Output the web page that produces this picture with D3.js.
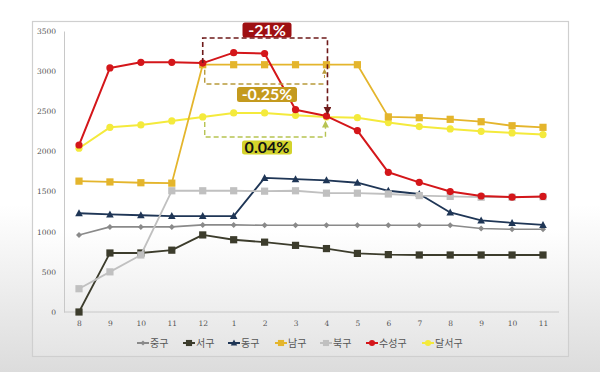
<!DOCTYPE html>
<html><head><meta charset="utf-8">
<script src="https://cdn.jsdelivr.net/npm/d3@7"></script>
<style>body{margin:0;background:#fff;}svg{display:block;}</style>
</head><body>
<svg id="c" width="600" height="372"></svg>
<script>
const months = ["8","9","10","11","12","1","2","3","4","5","6","7","8","9","10","11"];
const yTicks = [0,500,1000,1500,2000,2500,3000,3500];
const seriesNames = ["중구","서구","동구","남구","북구","수성구","달서구"];
const jungGu   = [960,1060,1060,1060,1085,1085,1080,1080,1080,1080,1080,1080,1080,1040,1030,1030];
const seoGu    = [0,735,735,770,960,900,870,830,790,730,715,710,710,710,710,710];
const dongGu   = [1230,1215,1205,1195,1195,1195,1670,1655,1640,1610,1510,1470,1240,1140,1110,1085];
const namGu    = [1630,1620,1610,1605,3080,3080,3080,3080,3080,3080,2430,2420,2400,2370,2320,2300];
const bukGu    = [290,500,710,1510,1510,1510,1505,1510,1480,1480,1470,1450,1440,1430,1430,1435];
const suseongGu= [2080,3040,3110,3110,3100,3230,3220,2520,2440,2260,1740,1615,1500,1445,1430,1440];
const dalseoGu = [2040,2300,2330,2380,2430,2480,2480,2450,2430,2420,2360,2310,2280,2250,2230,2210];
const annotations = [
  {label:"-21%", from:4, to:8, series:"수성구"},
  {label:"-0.25%", from:4, to:8, series:"남구"},
  {label:"0.04%", from:4, to:8, series:"달서구"}
];

const series = [
  {name:"중구", values:jungGu, color:"#8a8a8a", marker:"diamond", w:1.6},
  {name:"서구", values:seoGu, color:"#3c3c2c", marker:"square", w:1.8},
  {name:"동구", values:dongGu, color:"#1f3656", marker:"triangle", w:1.8},
  {name:"남구", values:namGu, color:"#e4b52c", marker:"square", w:1.8},
  {name:"북구", values:bukGu, color:"#c0c0c0", marker:"square", w:1.8},
  {name:"수성구", values:suseongGu, color:"#d4161a", marker:"circle", w:2},
  {name:"달서구", values:dalseoGu, color:"#f4ea3c", marker:"circle", w:2}
];

const svg = d3.select("#c");
const defs = svg.append("defs");
const g1 = defs.append("linearGradient").attr("id","bg").attr("x1",0).attr("y1",0).attr("x2",0).attr("y2",1);
g1.append("stop").attr("offset","0%").attr("stop-color","#ffffff");
g1.append("stop").attr("offset","55%").attr("stop-color","#ffffff");
g1.append("stop").attr("offset","100%").attr("stop-color","#dcdcdc");
const g2 = defs.append("linearGradient").attr("id","fr").attr("x1",0).attr("y1",0).attr("x2",0).attr("y2",1);
g2.append("stop").attr("offset","0%").attr("stop-color","#ffffff");
g2.append("stop").attr("offset","62%").attr("stop-color","#ffffff");
g2.append("stop").attr("offset","100%").attr("stop-color","#e4e4e4");

svg.append("rect").attr("width",600).attr("height",372).attr("fill","url(#bg)");
svg.append("rect").attr("x",32.5).attr("y",21.5).attr("width",536).attr("height",335)
  .attr("fill","url(#fr)").attr("stroke","#cfcfcf").attr("stroke-width",1.2);

const x = d3.scalePoint().domain(d3.range(months.length)).range([79,543]);
const y = d3.scaleLinear().domain([0,3500]).range([312,31]);

// axes
const yAxis = svg.append("g").attr("transform","translate(64,0)")
  .call(d3.axisLeft(y).tickValues(yTicks).tickFormat(d3.format("d")).tickSize(0).tickPadding(8));
yAxis.select(".domain").attr("stroke","#c8c8c8");
const xAxis = svg.append("g").attr("transform","translate(0,312)")
  .call(d3.axisBottom(x).tickFormat(i=>months[i]).tickSize(0).tickPadding(9));
xAxis.select(".domain").attr("d","M64,0H559").attr("stroke","#c8c8c8");
svg.selectAll(".tick text").attr("font-family","DejaVu Serif, serif").attr("font-size",7.5).attr("fill","#555");

function marker(sel, type, color, cx, cy, small){
  const s = small ? 0.85 : 1;
  if(type==="circle") sel.append("circle").attr("cx",cx).attr("cy",cy).attr("r",3.6*s).attr("fill",color);
  else if(type==="square") sel.append("rect").attr("x",cx-3.6*s).attr("y",cy-3.6*s).attr("width",7.2*s).attr("height",7.2*s).attr("fill",color);
  else if(type==="triangle") sel.append("path").attr("d",`M${cx},${cy-4*s}L${cx+3.8*s},${cy+3*s}L${cx-3.8*s},${cy+3*s}Z`).attr("fill",color);
  else if(type==="diamond") sel.append("path").attr("d",`M${cx},${cy-3*s}L${cx+3*s},${cy}L${cx},${cy+3*s}L${cx-3*s},${cy}Z`).attr("fill",color);
}

const line = d3.line().x((d,i)=>x(i)).y(d=>y(d));
const order = ["서구","중구","동구","북구","달서구","남구","수성구"];
order.forEach(n=>{
  const s = series.find(d=>d.name===n);
  const g = svg.append("g");
  g.append("path").attr("d",line(s.values)).attr("fill","none").attr("stroke",s.color).attr("stroke-width",s.w).attr("stroke-linejoin","round");
  s.values.forEach((v,i)=>marker(g,s.marker,s.color,x(i),y(v)));
});

// annotations
const byName = n => series.find(d=>d.name===n).values;
defs.append("marker").attr("id","arD").attr("viewBox","0 0 10 10").attr("refX",8).attr("refY",5)
  .attr("markerWidth",5).attr("markerHeight",5).attr("orient","auto")
  .append("path").attr("d","M0,0L10,5L0,10Z").attr("fill","#6e1a1a");
defs.append("marker").attr("id","arG").attr("viewBox","0 0 10 10").attr("refX",8).attr("refY",5)
  .attr("markerWidth",5).attr("markerHeight",5).attr("orient","auto")
  .append("path").attr("d","M0,0L10,5L0,10Z").attr("fill","#b89a3a");
defs.append("marker").attr("id","arY").attr("viewBox","0 0 10 10").attr("refX",8).attr("refY",5)
  .attr("markerWidth",5).attr("markerHeight",5).attr("orient","auto")
  .append("path").attr("d","M0,0L10,5L0,10Z").attr("fill","#b7c352");

const a0 = annotations[0], a1 = annotations[1], a2 = annotations[2];
// -21% bracket
{
  const v = byName(a0.series);
  const x0 = x(a0.from), x1 = x(a0.to)+1, top = 38;
  svg.append("path").attr("d",`M${x0},${y(v[a0.from])}V${top}H${x1}V${y(v[a0.to])-3}`)
    .attr("fill","none").attr("stroke","#6e1a1a").attr("stroke-width",1.6).attr("stroke-dasharray","5,3")
    .attr("marker-end","url(#arD)");
}
// -0.25% bracket
{
  const v = byName(a1.series);
  const x0 = x(a1.from)+2, x1 = x(a1.to)-3, bot = 84;
  svg.append("path").attr("d",`M${x0},${y(v[a1.from])+5}V${bot}H${x1}`)
    .attr("fill","none").attr("stroke","#b89a3a").attr("stroke-width",1.4).attr("stroke-dasharray","5,3");
  svg.append("path").attr("d",`M${x1+1},${bot-6}V${y(v[a1.to])+5}`)
    .attr("fill","none").attr("stroke","#b89a3a").attr("stroke-width",1).attr("stroke-dasharray","3,2")
    .attr("marker-end","url(#arG)");
}
// 0.04% bracket
{
  const v = byName(a2.series);
  const x0 = x(a2.from)+2, x1 = x(a2.to)-1, bot = 137;
  svg.append("path").attr("d",`M${x0},${y(v[a2.from])+5}V${bot}H${x1}V${y(v[a2.to])+5}`)
    .attr("fill","none").attr("stroke","#b7c352").attr("stroke-width",1.4).attr("stroke-dasharray","5,3")
    .attr("marker-end","url(#arY)");
}

function badge(text, cx, cy, w, h, fill, color, fs){
  svg.append("rect").attr("x",cx-w/2).attr("y",cy-h/2).attr("width",w).attr("height",h).attr("rx",2.5).attr("fill",fill);
  svg.append("text").attr("x",cx).attr("y",cy).attr("dy","0.36em").attr("text-anchor","middle")
    .attr("font-family","Lato, 'DejaVu Sans', sans-serif").attr("font-weight","bold").attr("font-size",fs)
    .attr("fill",color).text(text);
}
badge(a0.label, 267, 30, 49, 15, "#9e0f12", "#ffffff", 16);
badge(a1.label, 267, 94.5, 60, 15, "#c49a1e", "#ffffff", 16);
badge(a2.label, 267, 147.5, 50, 14, "#d3d32c", "#111111", 16);

// legend
const legX = [137,183,228,275,320,366,422];
const lg = svg.append("g");
series.forEach((s,i)=>{
  const lx = legX[i], ly = 343;
  lg.append("line").attr("x1",lx).attr("x2",lx+12).attr("y1",ly).attr("y2",ly).attr("stroke",s.color).attr("stroke-width",2);
  marker(lg, s.marker, s.color, lx+6, ly, true);
  lg.append("text").attr("x",lx+13).attr("y",ly).attr("dy","0.35em")
    .attr("font-family","'Noto Sans CJK KR', sans-serif").attr("font-size",10).attr("fill","#555").text(s.name);
});
</script>
</body></html>
